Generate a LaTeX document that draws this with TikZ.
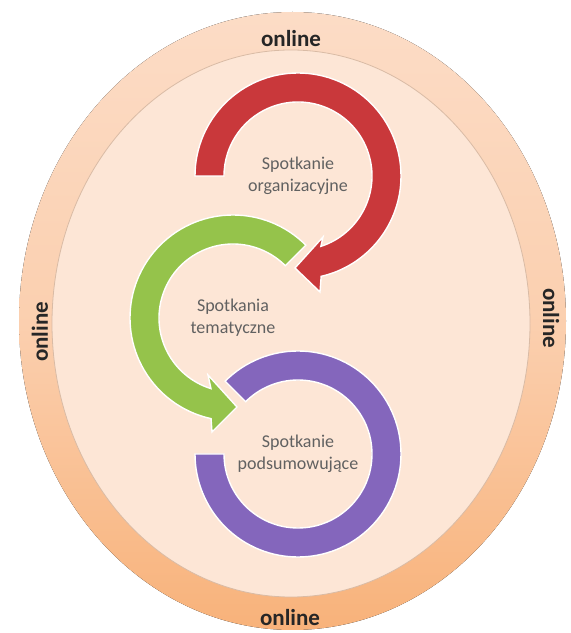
\documentclass[tikz,border=0pt]{standalone}
\usepackage{fontspec}
\setmainfont{Carlito}

\definecolor{bandtop}{HTML}{FCDCC6}
\definecolor{bandbot}{HTML}{F8B27A}
\definecolor{innerfill}{HTML}{FDE6D6}
\definecolor{innerline}{HTML}{D9BBA5}
\definecolor{redring}{HTML}{C9383B}
\definecolor{greenring}{HTML}{95C34B}
\definecolor{purplering}{HTML}{8466BC}

\begin{document}
\begin{tikzpicture}[x=1pt, y=1pt,
        stage/.style={text=black!62, align=center, font=\fontsize{18}{22}\selectfont},
        bandtext/.style={text=black!85, font=\fontsize{23}{26}\selectfont\bfseries},
        ring/.style={draw=white, line width=1.4pt}]
        \useasboundingbox (0, 0) rectangle (571, 633);
        % the two ellipses
        \fill[top color=bandtop, bottom color=bandbot, middle color=bandtop!70!bandbot] (292.5, 312) ellipse[x radius=273.5pt, y radius=309pt];
        \draw[fill=innerfill, draw=innerline, line width=0.8pt] (291, 309.5) ellipse[x radius=239pt, y radius=273.5pt];
        \node[bandtext] (ontop) at (291, 594) {online};
        \node[bandtext] (onbot) at (290, 15) {online};
        \node[bandtext, rotate=90] (onleft) at (40, 301) {online};
        \node[bandtext, rotate=-90] (onright) at (551, 315) {online};
        % the three meetings
        \node[stage] (org) at (298, 457) {Spotkanie\\organizacyjne};
        \node[stage] (tem) at (233, 315) {Spotkania\\tematyczne};
        \node[stage] (pod) at (298, 179) {Spotkanie\\podsumowujące};
        \fill[ring, fill=purplering] (pod.center) ++(135:103pt) arc[start angle=135, end angle=-180, radius=103pt]
            -- ([shift={(180:74pt)}]pod.center) arc[start angle=-180, end angle=135, radius=74pt] -- cycle;
        \fill[ring, fill=greenring] (tem.center) ++(45:103pt) arc[start angle=45, end angle=257.7, radius=103pt]
            -- ([shift={(-21,-114)}]tem.center) -- ([shift={(4,-89)}]tem.center) -- ([shift={(-25,-57)}]tem.center)
            -- ([shift={(252.7:74pt)}]tem.center) arc[start angle=252.7, end angle=45, radius=74pt] -- cycle;
        \fill[ring, fill=redring] (org.center) ++(180:103pt) arc[start angle=180, end angle=-77, radius=103pt]
            -- ([shift={(22,-116)}]org.center) -- ([shift={(-3,-92)}]org.center) -- ([shift={(25,-61)}]org.center)
            -- ([shift={(-72:74pt)}]org.center) arc[start angle=-72, end angle=180, radius=74pt] -- cycle;
    \end{tikzpicture}
\end{document}
